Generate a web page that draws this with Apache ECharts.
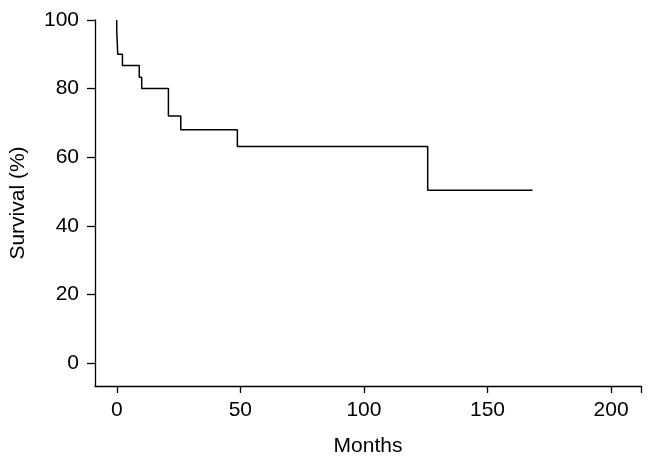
<!DOCTYPE html>
<html>
<head>
<meta charset="utf-8">
<script src="https://cdn.jsdelivr.net/npm/echarts@6/dist/echarts.min.js"></script>
<style>html,body{margin:0;padding:0;background:#fff}#c{width:654px;height:465px}</style>
</head>
<body>
<div id="c"></div>
<script>
var months   = [0,   0,    0.4, 2.3,  9.1,  10.1, 20.9, 25.9, 48.8, 125.8, 168.2];
var survival = [100, 96.7, 90,  86.7, 83.3, 80,   72,   68,   63.1, 50.4,  50.4];
var xTicks = [0, 50, 100, 150, 200];
var yTicks = [0, 20, 40, 60, 80, 100];
var xMin = -8.8, xMax = 212.1, yMin = -6.7, yMax = 100;

var data = months.map(function(m, i){ return [m, survival[i]]; });
var font = 'Liberation Sans, Arial, Helvetica, sans-serif';
var chart = echarts.init(document.getElementById('c'), null, {renderer: 'canvas'});
chart.setOption({
  animation: false,
  grid: {left: 95, right: 13, top: 20, bottom: 79, containLabel: false},
  xAxis: {
    type: 'value', min: xMin, max: xMax,
    name: 'Months', nameLocation: 'middle', nameGap: 50,
    nameTextStyle: {color: '#000', fontSize: 21, fontFamily: font},
    axisLine: {show: true, onZero: false, lineStyle: {color: '#000', width: 1.3}},
    axisTick: {show: true, length: 7, customValues: xTicks.concat([xMax]), lineStyle: {color: '#000', width: 1.3}},
    axisLabel: {customValues: xTicks, color: '#000', fontSize: 21, fontFamily: font, margin: 14},
    splitLine: {show: false}
  },
  yAxis: {
    type: 'value', min: yMin, max: yMax,
    name: 'Survival (%)', nameLocation: 'middle', nameGap: 66,
    nameTextStyle: {color: '#000', fontSize: 21, fontFamily: font},
    axisLine: {show: true, onZero: false, lineStyle: {color: '#000', width: 1.3}},
    axisTick: {show: true, length: 8, customValues: yTicks, lineStyle: {color: '#000', width: 1.3}},
    axisLabel: {customValues: yTicks, color: '#000', fontSize: 21, fontFamily: font, margin: 16},
    splitLine: {show: false}
  },
  series: [{
    type: 'line', step: 'end', data: data, symbol: 'none',
    lineStyle: {color: '#000', width: 1.5}
  }]
});
</script>
</body>
</html>
